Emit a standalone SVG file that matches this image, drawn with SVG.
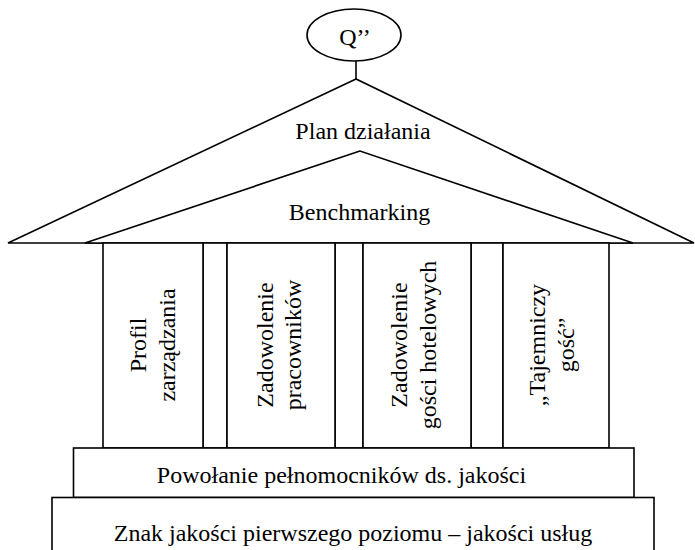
<svg xmlns="http://www.w3.org/2000/svg" width="695" height="550" viewBox="0 0 695 550">
<style>
.s{fill:#fff;stroke:#000;stroke-width:1.6}
.l{fill:none;stroke:#000;stroke-width:1.6}
text{font-family:"Liberation Serif","Times New Roman",serif;font-size:24px;fill:#000;text-anchor:middle}
</style>
<rect width="695" height="550" fill="#fff"/>
<g id="connectors">
<line class="l" x1="356" y1="61" x2="356" y2="79"/>
</g>
<g id="roof-plan">
<polygon class="s" points="356,79 8,243 694,243"/>
<text x="363" y="139">Plan działania</text>
</g>
<g id="roof-benchmarking">
<polygon class="s" points="360,151 85,243 633,243"/>
<text x="359.5" y="220">Benchmarking</text>
</g>
<g id="q">
<ellipse class="s" cx="354" cy="35" rx="47" ry="26"/>
<text x="355" y="45">Q’’</text>
</g>
<g id="gaps">
<rect class="s" x="203" y="243" width="24" height="205"/>
<rect class="s" x="335" y="243" width="28" height="205"/>
<rect class="s" x="471" y="243" width="32" height="205"/>
</g>
<g id="pillar1">
<rect class="s" x="103" y="243" width="100" height="205"/>
<text transform="translate(146,345) rotate(-90)">Profil</text>
<text transform="translate(175,345) rotate(-90)">zarządzania</text>
</g>
<g id="pillar2">
<rect class="s" x="227" y="243" width="108" height="205"/>
<text transform="translate(272.5,345) rotate(-90)">Zadowolenie</text>
<text transform="translate(300.5,345) rotate(-90)">pracowników</text>
</g>
<g id="pillar3">
<rect class="s" x="363" y="243" width="108" height="205"/>
<text transform="translate(407,345) rotate(-90)">Zadowolenie</text>
<text transform="translate(436,345) rotate(-90)">gości hotelowych</text>
</g>
<g id="pillar4">
<rect class="s" x="503" y="243" width="106" height="205"/>
<text transform="translate(545,345) rotate(-90)">„Tajemniczy</text>
<text transform="translate(574,345) rotate(-90)">gość”</text>
</g>
<g id="powolanie">
<rect class="s" x="73.5" y="448" width="560.5" height="49.5"/>
<text x="341.5" y="483">Powołanie pełnomocników ds. jakości</text>
</g>
<g id="znak">
<rect class="s" x="52" y="497.5" width="602" height="60"/>
<text x="353" y="541">Znak jakości pierwszego poziomu – jakości usług</text>
</g>
</svg>
